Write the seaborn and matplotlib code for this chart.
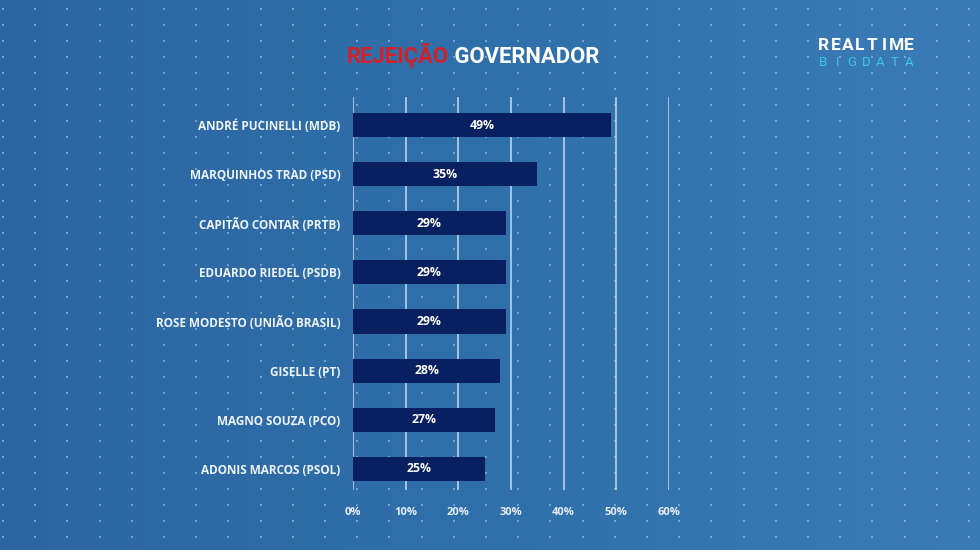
import numpy as np
import pandas as pd
import matplotlib
matplotlib.use("Agg")
import matplotlib.pyplot as plt
import seaborn as sns
from matplotlib.colors import LinearSegmentedColormap

candidates = ["ANDRÉ PUCINELLI (MDB)", "MARQUINHOS TRAD (PSD)", "CAPITÃO CONTAR (PRTB)",
              "EDUARDO RIEDEL (PSDB)", "ROSE MODESTO (UNIÃO BRASIL)", "GISELLE (PT)",
              "MAGNO SOUZA (PCO)", "ADONIS MARCOS (PSOL)"]
rejection = [49, 35, 29, 29, 29, 28, 27, 25]
xticks = [0, 10, 20, 30, 40, 50, 60]
xtick_labels = ["0%", "10%", "20%", "30%", "40%", "50%", "60%"]

df = pd.DataFrame({"candidate": candidates, "value": rejection})

sns.set_theme(style="white")
plt.rcParams['font.family'] = ['Open Sans', 'DejaVu Sans']

W, H = 980, 550
fig = plt.figure(figsize=(W / 100, H / 100), dpi=100)

# background gradient
bg = fig.add_axes([0, 0, 1, 1])
bg.set_xlim(0, W)
bg.set_ylim(H, 0)
bg.axis("off")
cmap = LinearSegmentedColormap.from_list("bg", ["#2c66a2", "#3070aa", "#3c7cb6"])
grad = np.tile(np.linspace(0, 1, 256), (2, 1))
bg.imshow(grad, extent=[0, W, H, 0], aspect="auto", cmap=cmap, zorder=0)
gx, gy = np.meshgrid(np.arange(3, W, 32.2), np.arange(9, H, 16))
bg.scatter(gx.ravel(), gy.ravel(), marker="s", s=2.8, linewidths=0,
           color="#a3c3e4", alpha=0.6, zorder=1)

# main chart
ax = fig.add_axes([353 / W, 1 - 490 / H, (669 - 353) / W, (490 - 97) / H])
ax.patch.set_alpha(0)
sns.barplot(data=df, x="value", y="candidate", orient="h", color="#08205f",
            saturation=1, width=0.49, linewidth=0, ax=ax, zorder=3)
ax.set_xlim(0, 60)
ax.set_ylim(7.43, -0.57)
for s in ax.spines.values():
    s.set_visible(False)
ax.set_xticks(xticks)
ax.set_xticklabels(xtick_labels)
ax.xaxis.grid(True, color="#c9daee", linewidth=1.2, alpha=0.9, zorder=1)
ax.yaxis.grid(False)
ax.set_xlabel("")
ax.set_ylabel("")
ax.tick_params(axis="x", length=0, pad=12, labelsize=8, labelcolor="#e6edf6")
ax.tick_params(axis="y", length=0, pad=9, labelsize=8.5, labelcolor="#eef3f9")
for lab in ax.get_xticklabels() + ax.get_yticklabels():
    lab.set_fontweight("bold")

for p, v in zip(ax.patches, rejection):
    ax.text(p.get_x() + p.get_width() / 2, p.get_y() + p.get_height() / 2,
            f"{v}%", ha="center", va="center", color="white",
            fontsize=8.8, fontweight="bold", zorder=5)

# title
tfam = ["Roboto", "DejaVu Sans"]
t1 = fig.text(347 / W, 1 - 55 / H, "REJEIÇÃO", color="#d61f26", fontsize=15.8,
              fontweight="bold", ha="left", va="center", family=tfam)
bg.annotate(" GOVERNADOR", xy=(1, 0), xycoords=t1, va="bottom", ha="left",
            color="white", fontsize=15.8, fontweight="bold", family=tfam)

# logo
for i, ch in enumerate("REALTIME"):
    fig.text((823 + i * 12.3) / W, 1 - 46 / H, ch, color="white", fontsize=12.5,
             fontweight="bold", ha="center", va="center", family=tfam)
for i, ch in enumerate("BIGDATA"):
    fig.text((823 + i * 14.3) / W, 1 - 63 / H, ch, color="#3cc6ee", fontsize=9.5,
             ha="center", va="center", family=tfam)

fig.savefig("out.png", dpi=100)
